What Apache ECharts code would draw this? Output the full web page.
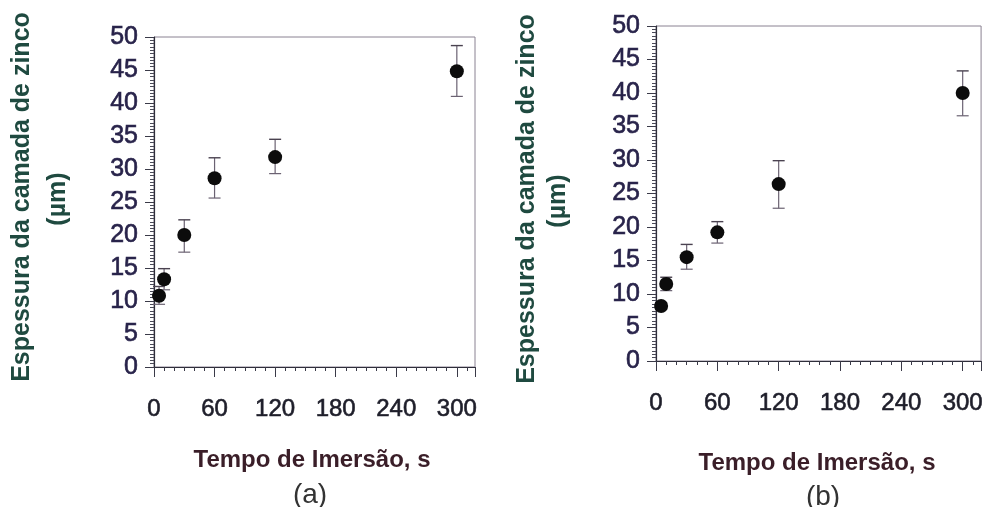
<!DOCTYPE html>
<html>
<head>
<meta charset="utf-8">
<script src="https://cdn.jsdelivr.net/npm/echarts@6/dist/echarts.min.js"></script>
<style>
html,body{margin:0;padding:0;background:#fff;}
#chart{width:986px;height:507px;}
</style>
</head>
<body>
<div id="chart"></div>
<script>
// ---- data ----
const times = [5, 10, 30, 60, 120, 300];
const xTicks = [0, 60, 120, 180, 240, 300];
const yTicks = [0, 5, 10, 15, 20, 25, 30, 35, 40, 45, 50];

const aMean = [10.8, 13.3, 20.0, 28.6, 31.8, 44.8];
const aLow  = [9.5, 11.7, 17.4, 25.6, 29.3, 41.0];
const aHigh = [12.2, 14.9, 22.3, 31.7, 34.5, 48.7];

const bMean = [8.2, 11.5, 15.5, 19.2, 26.4, 40.0];
const bLow  = [7.7, 10.5, 13.7, 17.6, 22.8, 36.6];
const bHigh = [8.7, 12.5, 17.4, 20.8, 29.9, 43.3];

const xTitle = 'Tempo de Imersão, s';
const yTitle = 'Espessura da camada de zinco';
const yUnit = '(µm)';
const panelLabels = ['(a)', '(b)'];

// ---- chart ----
const FONT = '"Liberation Sans", Arial, sans-serif';
const chart = echarts.init(document.getElementById('chart'), null, {renderer: 'canvas'});

function pts(mean) { return times.map((t, i) => [t, mean[i]]); }
function errs(low, high) { return times.map((t, i) => [t, low[i], high[i]]); }

function errorRender(params, api) {
  const x = api.value(0);
  const lo = api.coord([x, api.value(1)]);
  const hi = api.coord([x, api.value(2)]);
  const w = 6;
  const style = {stroke: '#6b6272', lineWidth: 1.2};
  return {
    type: 'group',
    children: [
      {type: 'line', shape: {x1: lo[0], y1: lo[1], x2: hi[0], y2: hi[1]}, style},
      {type: 'line', shape: {x1: lo[0] - w, y1: lo[1], x2: lo[0] + w, y2: lo[1]}, style},
      {type: 'line', shape: {x1: hi[0] - w, y1: hi[1], x2: hi[0] + w, y2: hi[1]}, style: {stroke: '#4a4250', lineWidth: 1.4}}
    ]
  };
}

function xAxisCfg(gi) {
  return {
    type: 'value', gridIndex: gi, min: 0, max: 318, interval: 60,
    axisLine: {show: true, lineStyle: {color: '#2e2e3a', width: 1.2}},
    axisTick: {show: true, length: 10, lineStyle: {color: '#3a3a48', width: 1}},
    minorTick: {show: true, splitNumber: 6, length: 4, lineStyle: {color: '#3a3a48', width: 1}},
    splitLine: {show: false},
    axisLabel: {
      margin: 30, fontSize: 24, color: '#1e1e2a', fontFamily: FONT,
      textBorderColor: '#1e1e2a', textBorderWidth: 0.6,
      showMaxLabel: false,
      formatter: v => (xTicks.indexOf(v) >= 0 ? String(v) : '')
    }
  };
}
function yAxisCfg(gi) {
  return {
    type: 'value', gridIndex: gi, min: 0, max: 50, interval: 5,
    axisLine: {show: true, lineStyle: {color: '#2e2e3a', width: 1.2}},
    axisTick: {show: true, length: 9, lineStyle: {color: '#3a3a48', width: 1}},
    minorTick: {show: true, splitNumber: 10, length: 4, lineStyle: {color: '#4a4a58', width: 1}},
    splitLine: {show: false},
    axisLabel: {
      margin: 16, fontSize: 25, color: '#28234a', fontFamily: FONT,
      textBorderColor: '#28234a', textBorderWidth: 0.6,
      formatter: v => (yTicks.indexOf(v) >= 0 ? String(v) : '')
    }
  };
}

const option = {
  backgroundColor: '#fff',
  animation: false,
  grid: [
    {left: 154, top: 37, width: 321, height: 330, show: true, borderColor: '#8a8292', borderWidth: 1, backgroundColor: 'transparent'},
    {left: 656, top: 26, width: 327, height: 335, show: true, borderColor: '#8a8292', borderWidth: 1, backgroundColor: 'transparent'}
  ],
  xAxis: [xAxisCfg(0), xAxisCfg(1)],
  yAxis: [yAxisCfg(0), yAxisCfg(1)],
  series: [
    {type: 'custom', xAxisIndex: 0, yAxisIndex: 0, data: errs(aLow, aHigh), renderItem: errorRender, z: 2, silent: true},
    {type: 'scatter', xAxisIndex: 0, yAxisIndex: 0, data: pts(aMean), symbol: 'circle', symbolSize: 14, itemStyle: {color: '#0c0c0c', opacity: 1}, z: 3},
    {type: 'custom', xAxisIndex: 1, yAxisIndex: 1, data: errs(bLow, bHigh), renderItem: errorRender, z: 2, silent: true},
    {type: 'scatter', xAxisIndex: 1, yAxisIndex: 1, data: pts(bMean), symbol: 'circle', symbolSize: 14, itemStyle: {color: '#0c0c0c', opacity: 1}, z: 3}
  ],
  graphic: [
    {type: 'text', x: 22, y: 197, rotation: Math.PI / 2, style: {text: yTitle, fontSize: 25, fontWeight: 'bold', fontFamily: FONT, fill: '#1f4a40', align: 'center', verticalAlign: 'middle'}},
    {type: 'text', x: 58, y: 199, rotation: Math.PI / 2, style: {text: yUnit, fontSize: 25, fontWeight: 'bold', fontFamily: FONT, fill: '#1f4a40', align: 'center', verticalAlign: 'middle'}},
    {type: 'text', x: 312, y: 460, style: {text: xTitle, fontSize: 24, fontWeight: 'bold', fontFamily: FONT, fill: '#3a1e28', align: 'center', verticalAlign: 'middle'}},
    {type: 'text', x: 310, y: 495, style: {text: panelLabels[0], fontSize: 28, fontFamily: FONT, fill: '#333', align: 'center', verticalAlign: 'middle'}},

    {type: 'text', x: 527, y: 199, rotation: Math.PI / 2, style: {text: yTitle, fontSize: 25, fontWeight: 'bold', fontFamily: FONT, fill: '#1f4a40', align: 'center', verticalAlign: 'middle'}},
    {type: 'text', x: 558, y: 201, rotation: Math.PI / 2, style: {text: yUnit, fontSize: 25, fontWeight: 'bold', fontFamily: FONT, fill: '#1f4a40', align: 'center', verticalAlign: 'middle'}},
    {type: 'text', x: 817, y: 463, style: {text: xTitle, fontSize: 24, fontWeight: 'bold', fontFamily: FONT, fill: '#3a1e28', align: 'center', verticalAlign: 'middle'}},
    {type: 'text', x: 823, y: 497, style: {text: panelLabels[1], fontSize: 28, fontFamily: FONT, fill: '#333', align: 'center', verticalAlign: 'middle'}}
  ]
};
chart.setOption(option);
</script>
</body>
</html>
